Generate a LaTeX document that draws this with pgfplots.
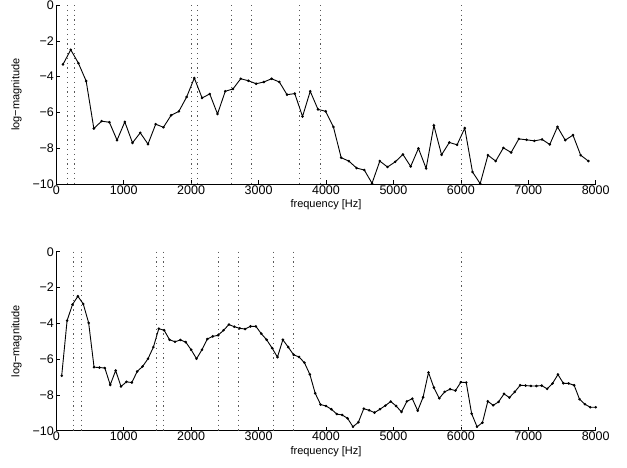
\documentclass[border=0pt]{standalone}
\usepackage{fontspec}
\setmainfont{Liberation Sans}
\usepackage{pgfplots}
\pgfplotsset{compat=1.18}
\begin{document}
\begin{tikzpicture}
\path[use as bounding box] (0pt,0pt) rectangle (627pt,467pt);
\pgfplotsset{
  myax/.style={
    scale only axis, width=539.4pt, height=179pt,
    xmin=0, xmax=8000, ymin=-10, ymax=0,
    axis lines*=left, tick align=inside, major tick length=4pt,
    axis line style={line width=0.6pt}, tick style={line width=0.6pt, black},
    xtick={0,1000,2000,3000,4000,5000,6000,7000,8000},
    xticklabels={0,1000,2000,3000,4000,5000,6000,7000,8000},
    ytick={-10,-8,-6,-4,-2,0},
    yticklabels={−10,−8,−6,−4,−2,0},
    tick label style={font=\fontsize{12.5}{14}\selectfont},
    label style={font=\fontsize{11}{13}\selectfont},
    xticklabel style={yshift=2pt},
    yticklabel style={xshift=1pt},
    xlabel={frequency [Hz]}, ylabel={log−magnitude},
    xlabel style={yshift=1.5pt},
    ylabel shift=4pt,
    clip=false,
  },
  vl/.style={black!65, line width=0.5pt, dash pattern=on 1.2pt off 3.6pt},
  dl/.style={black, line width=0.9pt, mark=*, mark size=0.8pt},
}
\begin{axis}[myax, at={(56.3pt,283pt)}, anchor=south west]
\addplot[vl] coordinates {(165,0) (165,-10)};
\addplot[vl] coordinates {(268,0) (268,-10)};
\addplot[vl] coordinates {(1995,0) (1995,-10)};
\addplot[vl] coordinates {(2095,0) (2095,-10)};
\addplot[vl] coordinates {(2597,0) (2597,-10)};
\addplot[vl] coordinates {(2895,0) (2895,-10)};
\addplot[vl] coordinates {(3610,0) (3610,-10)};
\addplot[vl] coordinates {(3917,0) (3917,-10)};
\addplot[vl] coordinates {(6000,0) (6000,-10)};
\addplot[dl] coordinates {
(99,-3.32) (214,-2.50) (328,-3.25) (443,-4.25) (557,-6.90) (672,-6.49) (787,-6.55)
(901,-7.55) (1016,-6.53) (1130,-7.70) (1245,-7.14) (1360,-7.77) (1474,-6.66) (1589,-6.83)
(1703,-6.16) (1818,-5.94) (1933,-5.14) (2047,-4.08) (2162,-5.19) (2276,-4.97) (2391,-6.09)
(2506,-4.82) (2620,-4.69) (2735,-4.12) (2849,-4.23) (2964,-4.40) (3079,-4.30) (3193,-4.12)
(3308,-4.30) (3422,-5.01) (3537,-4.95) (3652,-6.23) (3766,-4.82) (3881,-5.83) (3995,-5.94)
(4110,-6.81) (4225,-8.53) (4339,-8.72) (4454,-9.11) (4568,-9.22) (4683,-9.96) (4798,-8.72)
(4912,-9.05) (5027,-8.76) (5141,-8.35) (5256,-9.02) (5371,-8.01) (5485,-9.13) (5600,-6.73)
(5714,-8.37) (5829,-7.68) (5944,-7.81) (6058,-6.88) (6173,-9.33) (6287,-9.98) (6402,-8.39)
(6517,-8.72) (6631,-7.98) (6746,-8.24) (6860,-7.48) (6975,-7.53) (7090,-7.59) (7204,-7.51)
(7319,-7.79) (7433,-6.81) (7548,-7.55) (7663,-7.27) (7777,-8.39) (7892,-8.72)
};
\end{axis}
\begin{axis}[myax, at={(56.3pt,36.3pt)}, anchor=south west]
\addplot[vl] coordinates {(252,0) (252,-10)};
\addplot[vl] coordinates {(366,0) (366,-10)};
\addplot[vl] coordinates {(1485,0) (1485,-10)};
\addplot[vl] coordinates {(1590,0) (1590,-10)};
\addplot[vl] coordinates {(2400,0) (2400,-10)};
\addplot[vl] coordinates {(2705,0) (2705,-10)};
\addplot[vl] coordinates {(3215,0) (3215,-10)};
\addplot[vl] coordinates {(3517,0) (3517,-10)};
\addplot[vl] coordinates {(6000,0) (6000,-10)};
\addplot[dl] coordinates {
(80,-6.93) (160,-3.85) (240,-2.95) (320,-2.49) (400,-2.92) (480,-3.98) (560,-6.45)
(640,-6.47) (720,-6.50) (800,-7.44) (880,-6.64) (960,-7.53) (1040,-7.27) (1120,-7.31)
(1200,-6.69) (1280,-6.41) (1360,-5.98) (1440,-5.33) (1520,-4.30) (1600,-4.39) (1680,-4.92)
(1760,-5.03) (1840,-4.93) (1920,-5.05) (2000,-5.48) (2080,-5.98) (2160,-5.48) (2240,-4.88)
(2320,-4.73) (2400,-4.67) (2480,-4.39) (2560,-4.07) (2640,-4.19) (2720,-4.28) (2800,-4.32)
(2880,-4.17) (2960,-4.17) (3040,-4.58) (3120,-4.92) (3200,-5.38) (3280,-5.89) (3360,-4.92)
(3440,-5.33) (3520,-5.76) (3600,-5.88) (3680,-6.20) (3760,-6.85) (3840,-7.91) (3920,-8.54)
(4000,-8.62) (4080,-8.80) (4160,-9.07) (4240,-9.12) (4320,-9.31) (4400,-9.78) (4480,-9.53)
(4560,-8.77) (4640,-8.86) (4720,-8.99) (4800,-8.80) (4880,-8.60) (4960,-8.37) (5040,-8.62)
(5120,-8.95) (5200,-8.36) (5280,-8.21) (5360,-8.88) (5440,-8.13) (5520,-6.75) (5600,-7.59)
(5680,-8.19) (5760,-7.83) (5840,-7.68) (5920,-7.76) (6000,-7.29) (6080,-7.31) (6160,-9.05)
(6240,-9.78) (6320,-9.55) (6400,-8.36) (6480,-8.58) (6560,-8.39) (6640,-7.94) (6720,-8.15)
(6800,-7.83) (6880,-7.46) (6960,-7.48) (7040,-7.50) (7120,-7.50) (7200,-7.48) (7280,-7.66)
(7360,-7.36) (7440,-6.86) (7520,-7.35) (7600,-7.36) (7680,-7.46) (7760,-8.24) (7840,-8.52)
(7920,-8.69) (8000,-8.69)
};
\end{axis}
\end{tikzpicture}
\end{document}
